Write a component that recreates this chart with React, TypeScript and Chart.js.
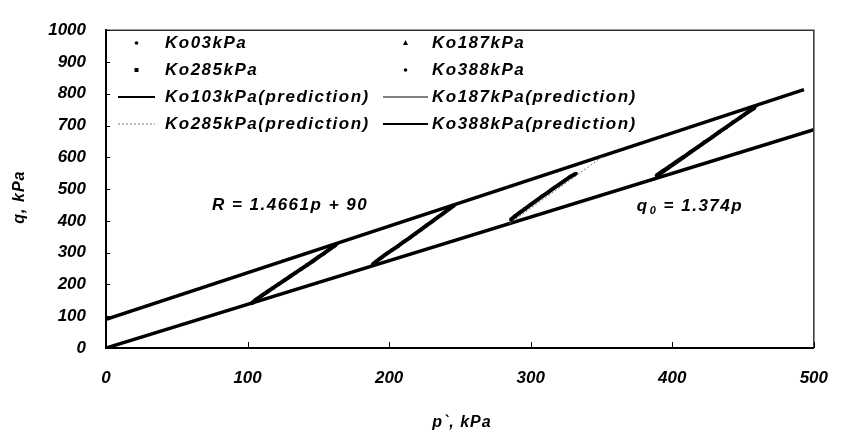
import React, { useEffect, useRef } from "react";
import { Chart, registerables } from "chart.js";

Chart.register(...registerables);

// ---- data ----
const P_TICKS = [0, 100, 200, 300, 400, 500];
const Q_TICKS = [0, 100, 200, 300, 400, 500, 600, 700, 800, 900, 1000];

const P103 = [103, 106, 110, 114, 118, 122, 126, 130, 134, 138, 142, 146, 150, 154, 158, 162];
const Q103 = [141, 152, 165, 177, 189, 201, 213, 225, 237, 249, 261, 273, 286, 298, 311, 323];

const P187 = [188, 191, 194, 198, 202, 206, 210, 214, 218, 222, 226, 230, 234, 238, 242, 246];
const Q187 = [262, 273, 283, 296, 308, 320, 333, 345, 358, 371, 384, 397, 410, 423, 436, 449];

const P285 = [286, 289, 292, 296, 300, 304, 308, 312, 316, 320, 324, 328, 332];
const Q285 = [404, 415, 425, 438, 451, 464, 477, 489, 502, 514, 527, 539, 549];

const P388 = [389, 393, 398, 403, 408, 413, 418, 423, 428, 433, 438, 443, 448, 453, 458];
const Q388 = [543, 556, 571, 586, 601, 617, 632, 648, 663, 679, 694, 710, 725, 741, 755];

const PRED103_P = [103, 166];
const PRED103_Q = [141.5, 333];
const PRED187_P = [187, 249];
const PRED187_Q = [257, 455];
const PRED285_P = [285, 352];
const PRED285_Q = [391.6, 606];
const PRED388_P = [388, 462];
const PRED388_Q = [533, 767];

const R_P = [0, 493];
const R_Q = [90, 812.8];
const Q0_P = [0, 500];
const Q0_Q = [0, 687];

const LABELS = [
  "Ko03kPa",
  "Ko187kPa",
  "Ko285kPa",
  "Ko388kPa",
  "Ko103kPa(prediction)",
  "Ko187kPa(prediction)",
  "Ko285kPa(prediction)",
  "Ko388kPa(prediction)",
];

const R_TEXT = "R = 1.4661p + 90";
const R_TEXT_AT = [130, 448];
const Q0_TEXT = ["q", "0", " = 1.374p"];
const Q0_TEXT_AT = [375, 445];

const X_TITLE = "p`, kPa";
const Y_TITLE = "q, kPa";

const FONT_FAMILY = '"Liberation Sans", Arial, sans-serif';

const pts = (xs: number[], ys: number[]) => xs.map((x, i) => ({ x, y: ys[i] }));

const overlay = {
  id: "overlay",
  afterDatasetsDraw(chart: any) {
    const { ctx, chartArea, scales } = chart;
    const { left, top, right, bottom } = chartArea;
    const xs = scales.x;
    const ys = scales.y;
    ctx.save();

    // frame top/right
    ctx.strokeStyle = "#333";
    ctx.lineWidth = 1.5;
    ctx.beginPath();
    ctx.moveTo(left, top);
    ctx.lineTo(right, top);
    ctx.lineTo(right, bottom);
    ctx.stroke();

    // inside tick marks
    ctx.strokeStyle = "#000";
    ctx.lineWidth = 1;
    ctx.beginPath();
    for (const v of Q_TICKS) {
      const py = Math.round(ys.getPixelForValue(v)) + 0.5;
      ctx.moveTo(left, py);
      ctx.lineTo(left + 4, py);
    }
    for (const v of P_TICKS) {
      const px = Math.round(xs.getPixelForValue(v)) + 0.5;
      ctx.moveTo(px, bottom);
      ctx.lineTo(px, bottom - 6);
    }
    ctx.stroke();

    // legend
    const font = `italic bold 17px ${FONT_FAMILY}`;
    ctx.font = font;
    (ctx as any).letterSpacing = "1.5px";
    ctx.textBaseline = "middle";
    ctx.textAlign = "left";
    ctx.fillStyle = "#000";
    const symStart = [118, 383];
    const symEnd = [155, 428];
    const textX = [165, 432];
    const rowY = [43, 70, 97, 124];
    const datasets = chart.data.datasets;
    for (let i = 0; i < LABELS.length; i++) {
      const ds = datasets[i];
      const col = i % 2;
      const row = Math.floor(i / 2);
      const cy = rowY[row];
      if (ds.showLegendLine) {
        ctx.save();
        ctx.strokeStyle = ds.borderColor;
        ctx.lineWidth = ds.legendLineWidth || ds.borderWidth;
        ctx.setLineDash(ds.borderDash || []);
        ctx.beginPath();
        ctx.moveTo(symStart[col], cy);
        ctx.lineTo(symEnd[col], cy);
        ctx.stroke();
        ctx.restore();
      } else {
        const cx = (symStart[col] + symEnd[col]) / 2;
        ctx.save();
        ctx.fillStyle = "#000";
        ctx.beginPath();
        const style = ds.pointStyle;
        if (style === "triangle") {
          ctx.moveTo(cx, cy - 3);
          ctx.lineTo(cx + 2.5, cy + 2);
          ctx.lineTo(cx - 2.5, cy + 2);
          ctx.closePath();
          ctx.fill();
        } else if (style === "rect") {
          ctx.rect(cx - 2, cy - 2, 4, 4);
          ctx.fill();
        } else {
          ctx.arc(cx, cy, 1.8, 0, Math.PI * 2);
          ctx.fill();
        }
        ctx.restore();
      }
      ctx.fillText(LABELS[i], textX[col], cy);
    }

    // annotation R
    ctx.textAlign = "center";
    ctx.fillText(R_TEXT, xs.getPixelForValue(R_TEXT_AT[0]), ys.getPixelForValue(R_TEXT_AT[1]));

    // annotation q0
    ctx.textAlign = "left";
    let qx = xs.getPixelForValue(Q0_TEXT_AT[0]);
    const qy = ys.getPixelForValue(Q0_TEXT_AT[1]);
    ctx.fillText(Q0_TEXT[0], qx, qy);
    qx += ctx.measureText(Q0_TEXT[0]).width;
    ctx.font = `italic bold 11px ${FONT_FAMILY}`;
    ctx.fillText(Q0_TEXT[1], qx + 1, qy + 4);
    qx += ctx.measureText(Q0_TEXT[1]).width + 1;
    ctx.font = font;
    ctx.fillText(Q0_TEXT[2], qx, qy);

    // axis titles
    ctx.font = `italic bold 16px ${FONT_FAMILY}`;
    (ctx as any).letterSpacing = "1px";
    ctx.textAlign = "center";
    ctx.fillText(X_TITLE, (left + right) / 2 + 2, 423);
    ctx.save();
    ctx.translate(20, (top + bottom) / 2 + 8);
    ctx.rotate(-Math.PI / 2);
    ctx.fillText(Y_TITLE, 0, 0);
    ctx.restore();

    ctx.restore();
  },
};

export default function App() {
  const ref = useRef<HTMLCanvasElement | null>(null);

  useEffect(() => {
    document.body.style.margin = "0";
    const canvas = ref.current;
    if (!canvas) return;

    const dataSeries = (label: string, xs: number[], ys: number[], style: string, r: number) => ({
      label,
      data: pts(xs, ys),
      showLine: true,
      borderColor: "#000",
      backgroundColor: "#000",
      borderWidth: 4,
      pointStyle: style,
      pointRadius: r,
      pointBorderWidth: 0,
      showLegendLine: false,
    });
    const lineSeries = (label: string, xs: number[], ys: number[], color: string, width: number, dash: number[] = [], legendWidth?: number) => ({
      label,
      data: pts(xs, ys),
      showLine: true,
      borderColor: color,
      backgroundColor: color,
      borderWidth: width,
      borderDash: dash,
      pointRadius: 0,
      showLegendLine: true,
      legendLineWidth: legendWidth,
    });

    const tickFont = { family: FONT_FAMILY, size: 17, style: "italic", weight: "bold" };

    const chart = new Chart(canvas, {
      type: "scatter",
      data: {
        datasets: [
          dataSeries(LABELS[0], P103, Q103, "circle", 2),
          dataSeries(LABELS[1], P187, Q187, "triangle", 2.4),
          dataSeries(LABELS[2], P285, Q285, "rect", 2.2),
          dataSeries(LABELS[3], P388, Q388, "circle", 2),
          lineSeries(LABELS[4], PRED103_P, PRED103_Q, "#000", 1.5, [], 2),
          lineSeries(LABELS[5], PRED187_P, PRED187_Q, "#000", 1, [], 1),
          lineSeries(LABELS[6], PRED285_P, PRED285_Q, "#777", 1, [2, 2], 1),
          lineSeries(LABELS[7], PRED388_P, PRED388_Q, "#000", 1.5, [], 2),
          lineSeries("R", R_P, R_Q, "#000", 3.5),
          lineSeries("q0", Q0_P, Q0_Q, "#000", 3.5),
        ] as any,
      },
      options: {
        animation: false,
        responsive: false,
        maintainAspectRatio: false,
        events: [],
        layout: { padding: { top: 18, right: 23, left: 0, bottom: 0 } },
        plugins: {
          legend: { display: false },
          tooltip: { enabled: false },
        },
        scales: {
          x: {
            type: "linear",
            min: 0,
            max: 500,
            afterBuildTicks: (scale: any) => {
              scale.ticks = P_TICKS.map((v) => ({ value: v }));
            },
            afterFit: (scale: any) => {
              scale.height = 87;
            },
            ticks: {
              color: "#000",
              padding: 20,
              maxRotation: 0,
              callback: (v: any) => String(v),
              font: tickFont,
            },
            grid: { drawOnChartArea: false, drawTicks: false },
            border: { display: true, color: "#000", width: 2 },
          },
          y: {
            type: "linear",
            min: 0,
            max: 1000,
            afterBuildTicks: (scale: any) => {
              scale.ticks = Q_TICKS.map((v) => ({ value: v }));
            },
            afterFit: (scale: any) => {
              scale.width = 106;
            },
            ticks: {
              color: "#000",
              padding: 20,
              callback: (v: any) => String(v),
              font: tickFont,
            },
            grid: { drawOnChartArea: false, drawTicks: false },
            border: { display: true, color: "#000", width: 2 },
          },
        },
      } as any,
      plugins: [overlay],
    });

    return () => chart.destroy();
  }, []);

  return (
    <div style={{ width: 848, height: 435, background: "#fff" }}>
      <canvas ref={ref} width={848} height={435} style={{ display: "block" }} />
    </div>
  );
}
